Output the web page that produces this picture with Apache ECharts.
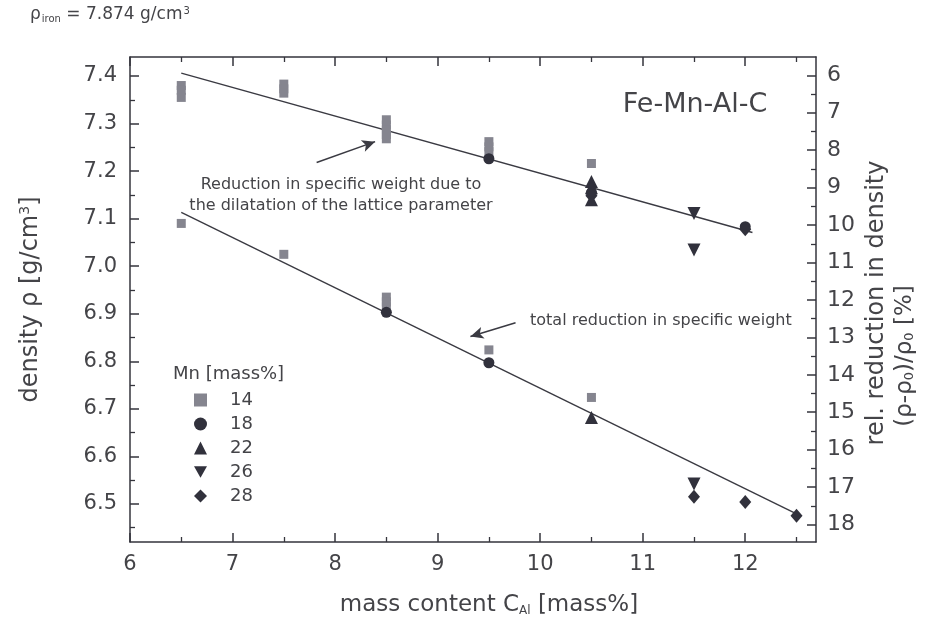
<!DOCTYPE html>
<html>
<head>
<meta charset="utf-8">
<title>Density of Fe-Mn-Al-C steels</title>
<script src="https://cdn.jsdelivr.net/npm/echarts@6/dist/echarts.min.js"></script>
<style>
  html, body { margin: 0; padding: 0; background: #ffffff; }
  #chart { width: 925px; height: 627px; }
</style>
</head>
<body>
<div id="chart"></div>
<script>
// Density of pure iron, used for the relative reduction scale on the right
const RHO_IRON = 7.874;

// Measured densities [g/cm3] against Al content [mass%], grouped by Mn content
const mn14 = [
  [6.5, 7.38], [6.5, 7.37], [6.5, 7.355], [6.5, 7.09],
  [7.5, 7.383], [7.5, 7.373], [7.5, 7.364], [7.5, 7.025],
  [8.5, 7.308], [8.5, 7.297], [8.5, 7.287], [8.5, 7.277], [8.5, 7.268],
  [8.5, 6.935], [8.5, 6.925], [8.5, 6.915],
  [9.5, 7.262], [9.5, 7.251], [9.5, 7.241], [9.5, 6.824],
  [10.5, 7.216], [10.5, 6.724]
];
const mn18 = [[8.5, 6.903], [9.5, 7.226], [9.5, 6.797], [10.5, 7.155], [12, 7.083]];
const mn22 = [[10.5, 7.178], [10.5, 7.165], [10.5, 7.14], [10.5, 6.682]];
const mn26 = [[11.5, 7.111], [11.5, 7.034], [11.5, 6.542]];
const mn28 = [[10.5, 7.148], [11.5, 6.515], [12, 7.078], [12, 6.504], [12.5, 6.475]];

// Linear trends: lattice dilatation only (upper) and total reduction (lower)
const fitLattice = [[6.5, 7.406], [12.07, 7.071]];
const fitTotal = [[6.5, 7.113], [12.54, 6.475]];

// Annotation arrows, from tail to head, in data coordinates
const arrowLattice = [[7.82, 7.218], [8.39, 7.262]];
const arrowTotal = [[9.76, 6.881], [9.32, 6.852]];

// Axis ranges and tick positions
const xRange = [6, 12.69];
const rhoRange = [6.42, 7.44];
const xMajor = [6, 7, 8, 9, 10, 11, 12];
const xMinor = [6.5, 7.5, 8.5, 9.5, 10.5, 11.5, 12.5];
const rhoMajor = [6.5, 6.6, 6.7, 6.8, 6.9, 7.0, 7.1, 7.2, 7.3, 7.4];
const rhoMinor = [6.45, 6.55, 6.65, 6.75, 6.85, 6.95, 7.05, 7.15, 7.25, 7.35];
const relMajor = [6, 7, 8, 9, 10, 11, 12, 13, 14, 15, 16, 17, 18];
const relMinor = [6.5, 7.5, 8.5, 9.5, 10.5, 11.5, 12.5, 13.5, 14.5, 15.5, 16.5, 17.5];

// Legend entries (Mn content, mass%)
const mnLevels = ['14', '18', '22', '26', '28'];

// Relative reduction in density (%) for a given density
const relReduction = rho => (1 - rho / RHO_IRON) * 100;

const FONT = "'DejaVu Sans', Verdana, sans-serif";
const TEXT = '#444448';
const AXIS = '#35353d';
const DARK = '#31313c';
const GREY = '#85858f';
const DOWN_TRIANGLE = 'path://M0,0 L10,0 L5,9 Z';

const frameLine = { show: true, onZero: false, lineStyle: { color: AXIS, width: 1.5 } };

function majorTicks(values) {
  return { show: true, inside: true, length: 9, customValues: values, lineStyle: { color: AXIS, width: 1.5 } };
}
function minorTicks(values) {
  return { show: true, inside: true, length: 5, customValues: values, lineStyle: { color: AXIS, width: 1.3 } };
}

const chart = echarts.init(document.getElementById('chart'), null, { renderer: 'canvas' });

const option = {
  backgroundColor: '#ffffff',
  animation: false,
  textStyle: { fontFamily: FONT },
  grid: { left: 130, right: 109, top: 57, bottom: 85 },
  xAxis: [
    {
      type: 'value', position: 'bottom', min: xRange[0], max: xRange[1],
      axisLine: frameLine, axisTick: majorTicks(xMajor), splitLine: { show: false },
      axisLabel: { customValues: xMajor, margin: 12, color: TEXT, fontSize: 21, fontFamily: FONT },
      name: 'mass content C{sub|Al} [mass%]', nameLocation: 'middle', nameGap: 52,
      nameTextStyle: {
        color: TEXT, fontSize: 23, fontFamily: FONT, padding: [0, 0, 0, 32],
        rich: { sub: { fontSize: 12, verticalAlign: 'bottom', padding: [10, 0, 0, 0], color: TEXT, fontFamily: FONT } }
      }
    },
    {
      type: 'value', position: 'bottom', min: xRange[0], max: xRange[1],
      axisLine: { show: false }, axisTick: minorTicks(xMinor), axisLabel: { show: false }, splitLine: { show: false }
    },
    {
      type: 'value', position: 'top', min: xRange[0], max: xRange[1],
      axisLine: frameLine, axisTick: majorTicks(xMajor), axisLabel: { show: false }, splitLine: { show: false }
    },
    {
      type: 'value', position: 'top', min: xRange[0], max: xRange[1],
      axisLine: { show: false }, axisTick: minorTicks(xMinor), axisLabel: { show: false }, splitLine: { show: false }
    }
  ],
  yAxis: [
    {
      type: 'value', position: 'left', min: rhoRange[0], max: rhoRange[1],
      axisLine: frameLine, axisTick: majorTicks(rhoMajor), splitLine: { show: false },
      axisLabel: {
        customValues: rhoMajor, margin: 13, color: TEXT, fontSize: 21, fontFamily: FONT,
        formatter: v => v.toFixed(1)
      },
      name: 'density ρ [g/cm{sup|3}]', nameLocation: 'middle', nameGap: 86,
      nameTextStyle: {
        color: TEXT, fontSize: 24, fontFamily: FONT,
        rich: { sup: { fontSize: 14, verticalAlign: 'top', padding: [0, 0, 12, 0], color: TEXT, fontFamily: FONT } }
      }
    },
    {
      type: 'value', position: 'left', min: rhoRange[0], max: rhoRange[1],
      axisLine: { show: false }, axisTick: minorTicks(rhoMinor), axisLabel: { show: false }, splitLine: { show: false }
    },
    {
      type: 'value', position: 'right', inverse: true,
      min: relReduction(rhoRange[1]), max: relReduction(rhoRange[0]),
      axisLine: frameLine, axisTick: majorTicks(relMajor), splitLine: { show: false },
      axisLabel: { customValues: relMajor, margin: 11, color: TEXT, fontSize: 22, fontFamily: FONT }
    },
    {
      type: 'value', position: 'right', inverse: true,
      min: relReduction(rhoRange[1]), max: relReduction(rhoRange[0]),
      axisLine: { show: false }, axisTick: minorTicks(relMinor), axisLabel: { show: false }, splitLine: { show: false }
    }
  ],
  legend: {
    orient: 'vertical', left: 189, top: 385,
    itemWidth: 13, itemHeight: 13, itemGap: 4,
    data: mnLevels.map(name => (name === '26' ? { name, icon: DOWN_TRIANGLE } : { name })),
    textStyle: { color: TEXT, fontSize: 18, fontFamily: FONT, lineHeight: 20, padding: [0, 0, 0, 18] },
    selectedMode: false
  },
  series: [
    {
      name: 'trend lattice', type: 'line', data: fitLattice, symbol: 'none', silent: true,
      lineStyle: { color: '#3a3a42', width: 1.4 }, z: 1,
      markLine: {
        silent: true, symbol: ['none', 'arrow'], symbolSize: [9, 13],
        lineStyle: { color: '#3a3a42', width: 1.5, type: 'solid' }, label: { show: false },
        data: [[{ coord: arrowLattice[0] }, { coord: arrowLattice[1] }]]
      }
    },
    {
      name: 'trend total', type: 'line', data: fitTotal, symbol: 'none', silent: true,
      lineStyle: { color: '#3a3a42', width: 1.4 }, z: 1,
      markLine: {
        silent: true, symbol: ['none', 'arrow'], symbolSize: [9, 13],
        lineStyle: { color: '#3a3a42', width: 1.5, type: 'solid' }, label: { show: false },
        data: [[{ coord: arrowTotal[0] }, { coord: arrowTotal[1] }]]
      }
    },
    { name: '14', type: 'scatter', data: mn14, symbol: 'rect', symbolSize: 9, itemStyle: { color: GREY, opacity: 1 }, z: 3 },
    { name: '18', type: 'scatter', data: mn18, symbol: 'circle', symbolSize: 11, itemStyle: { color: DARK, opacity: 1 }, z: 4 },
    { name: '22', type: 'scatter', data: mn22, symbol: 'triangle', symbolSize: 13, itemStyle: { color: DARK, opacity: 1 }, z: 4 },
    { name: '26', type: 'scatter', data: mn26, symbol: 'triangle', symbolRotate: 180, symbolSize: 13, itemStyle: { color: DARK, opacity: 1 }, z: 4 },
    { name: '28', type: 'scatter', data: mn28, symbol: 'diamond', symbolSize: [12, 14], itemStyle: { color: DARK, opacity: 1 }, z: 4 }
  ],
  graphic: [
    {
      type: 'text', left: 30, top: 6,
      style: {
        text: 'ρ{sub|iron} = 7.874 g/cm{sup|3}',
        fill: TEXT, font: '17px ' + FONT,
        rich: {
          sub: { fontSize: 10, verticalAlign: 'bottom', padding: [8, 0, 0, 1], fill: TEXT, fontFamily: FONT },
          sup: { fontSize: 10, verticalAlign: 'top', padding: [0, 0, 8, 1], fill: TEXT, fontFamily: FONT }
        }
      }
    },
    {
      type: 'text', x: 695, y: 105,
      style: { text: 'Fe-Mn-Al-C', fill: TEXT, font: '27px ' + FONT, align: 'center', verticalAlign: 'middle' }
    },
    {
      type: 'text', x: 341, y: 195,
      style: {
        text: 'Reduction in specific weight due to\nthe dilatation of the lattice parameter',
        fill: TEXT, font: '16px ' + FONT, align: 'center', verticalAlign: 'middle', lineHeight: 21
      }
    },
    {
      type: 'text', x: 530, y: 321,
      style: { text: 'total reduction in specific weight', fill: TEXT, font: '16px ' + FONT, align: 'left', verticalAlign: 'middle' }
    },
    {
      type: 'text', x: 173, y: 374,
      style: { text: 'Mn [mass%]', fill: TEXT, font: '18px ' + FONT, align: 'left', verticalAlign: 'middle' }
    },
    {
      type: 'text', x: 877, y: 303, rotation: Math.PI / 2,
      style: { text: 'rel. reduction in density', fill: TEXT, font: '24px ' + FONT, align: 'center', verticalAlign: 'middle' }
    },
    {
      type: 'text', x: 905, y: 356, rotation: Math.PI / 2,
      style: {
        text: '(ρ-ρ{sub|0})/ρ{sub|0} [%]',
        fill: TEXT, font: '23px ' + FONT, align: 'center', verticalAlign: 'middle',
        rich: { sub: { fontSize: 13, verticalAlign: 'bottom', padding: [10, 0, 0, 0], fill: TEXT, fontFamily: FONT } }
      }
    }
  ]
};

chart.setOption(option);
</script>
</body>
</html>
